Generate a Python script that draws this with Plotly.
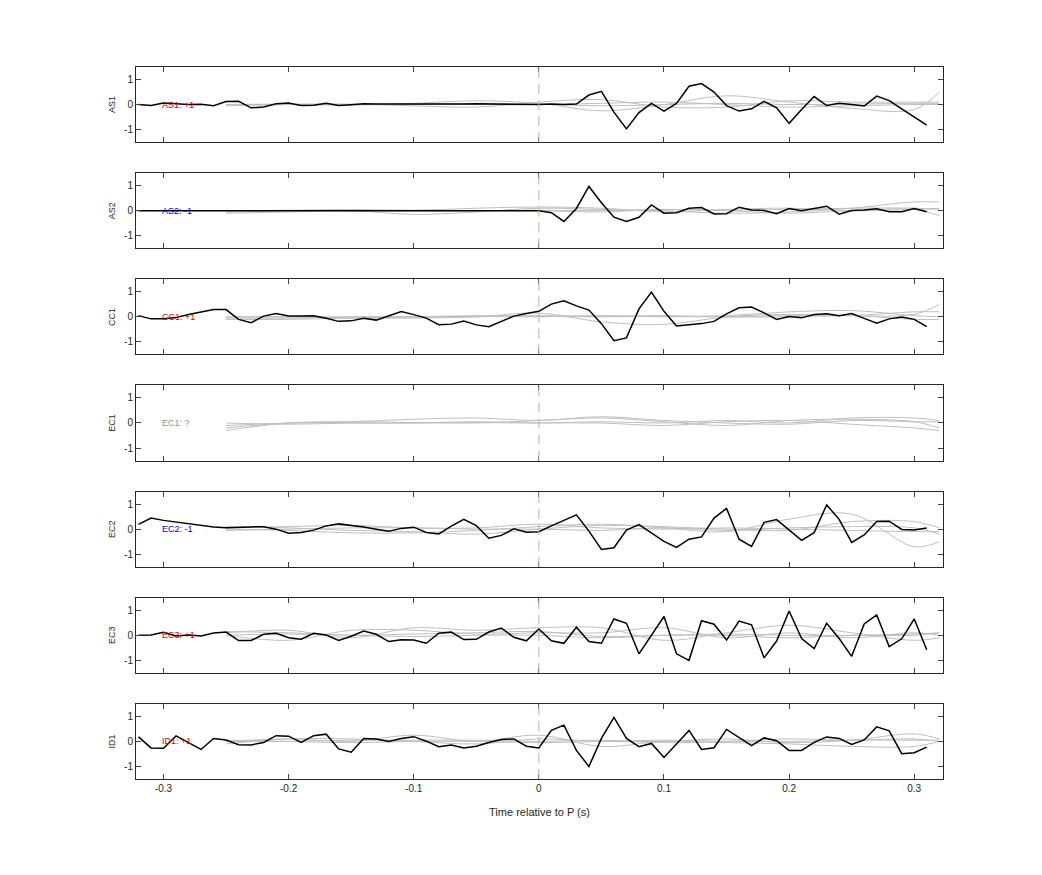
import numpy as np
import plotly.graph_objects as go
from plotly.subplots import make_subplots

# black trace time axis: -0.32 .. 0.31 in 0.01 steps
t_black = np.round(np.arange(-0.32, 0.315, 0.01), 2)
# gray synthetic curves sampled coarsely, drawn as splines
t_gray = [-0.25, -0.2, -0.15, -0.1, -0.05, 0.0, 0.05, 0.1, 0.15, 0.2, 0.25, 0.3, 0.32]

stations = ["AS1", "AS2", "CC1", "EC1", "EC2", "EC3", "ID1"]
labels = ["AS1: +1", "AS2: -1", "CC1: +1", "EC1: ?", "EC2: -1", "EC3: +1", "ID1: +1"]
label_colors = ["#d00000", "#0000c8", "#d00000", "#909090", "#0000c8", "#d00000", "#d00000"]

as1 = [0, -0.04, 0.06, 0.03, 0, 0.01, -0.05, 0.12, 0.13, -0.13, -0.1, 0.03, 0.06, -0.04, -0.03,
       0.05, -0.04, -0.01, 0.03, 0.02, 0.02, 0.01, 0, 0, -0.01, 0, 0.02, 0.03, 0.02, 0.03, 0, 0,
       0, 0.02, 0, 0.02, 0.38, 0.53, -0.3, -0.97, -0.32, 0.05, -0.26, 0.05, 0.73, 0.84, 0.5, -0.04,
       -0.26, -0.17, 0.13, -0.13, -0.75, -0.2, 0.32, -0.04, 0.05, 0, -0.06, 0.34, 0.16, -0.17, -0.49, -0.82]
as2 = [0, 0, 0, 0, 0.01, 0.01, 0, 0, 0, 0.01, 0.01, 0, 0, 0, 0, 0, 0, 0, 0.01, 0.01, 0.01, 0.02,
       0.02, 0.02, 0.01, 0.01, 0.01, 0.01, 0.01, 0.02, 0.01, 0.01,
       0, -0.08, -0.43, 0.09, 0.97, 0.32, -0.26, -0.43, -0.26, 0.23, -0.1, -0.08, 0.1, 0.13, -0.13,
       -0.12, 0.14, 0.03, 0.01, -0.12, 0.09, 0, 0.1, 0.18, -0.14, 0.01, 0.03, 0.08, -0.04, -0.04, 0.09, -0.04]
cc1 = [0.05, -0.08, -0.08, -0.03, 0.09, 0.19, 0.29, 0.29, -0.1, -0.23, 0.03, 0.13, 0.03, 0.03, 0.04,
       -0.06, -0.18, -0.16, -0.06, -0.13, 0.05, 0.21, 0.09, -0.05, -0.31, -0.29, -0.17, -0.32, -0.39,
       -0.18, 0.03, 0.13,
       0.22, 0.51, 0.64, 0.44, 0.27, -0.27, -0.95, -0.84, 0.32, 0.99, 0.22, -0.36, -0.32, -0.27, -0.18,
       0.12, 0.36, 0.39, 0.16, -0.1, 0.01, -0.04, 0.09, 0.12, 0.04, 0.13, -0.06, -0.25, -0.08, -0.01, -0.1, -0.39]
ec1 = None
ec2 = [0.19, 0.44, 0.35, 0.29, 0.22, 0.14, 0.09, 0.06, 0.06, 0.09, 0.1, 0, -0.16, -0.13, -0.04, 0.13,
       0.21, 0.16, 0.09, 0, -0.08, 0.03, 0.08, -0.13, -0.19, 0.12, 0.39, 0.14, -0.36, -0.25, 0.01, -0.12,
       -0.1, 0.13, 0.36, 0.57, -0.08, -0.81, -0.74, -0.04, 0.18, -0.14, -0.49, -0.73, -0.4, -0.31, 0.44,
       0.83, -0.4, -0.69, 0.27, 0.38, -0.05, -0.45, -0.14, 0.97, 0.39, -0.53, -0.23, 0.31, 0.32, -0.01, -0.03, 0.05]
ec3 = [0, 0.01, 0.12, -0.03, 0.01, -0.03, 0.09, 0.13, -0.21, -0.21, 0.04, 0.08, -0.1, -0.16, 0.08, 0.01,
       -0.21, -0.04, 0.17, 0.04, -0.25, -0.18, -0.19, -0.32, 0.08, 0.13, -0.17, -0.16, 0.13, 0.29, -0.08, -0.22,
       0.25, -0.22, -0.32, 0.32, -0.25, -0.32, 0.65, 0.48, -0.74, -0.01, 0.75, -0.74, -1.0, 0.58, 0.44, -0.19,
       0.57, 0.42, -0.9, -0.23, 0.97, -0.13, -0.53, 0.48, -0.13, -0.84, 0.45, 0.81, -0.45, -0.14, 0.65, -0.58]
id1 = [0.18, -0.26, -0.27, 0.22, -0.05, -0.32, 0.12, 0.06, -0.13, -0.14, -0.04, 0.23, 0.21, -0.04, 0.23,
       0.29, -0.3, -0.43, 0.12, 0.1, 0, 0.12, 0.19, 0.01, -0.21, -0.14, -0.26, -0.19, -0.04, 0.08, 0.1, -0.19,
       -0.26, 0.44, 0.65, -0.36, -1.0, 0.12, 0.96, 0.12, -0.21, -0.08, -0.64, -0.1, 0.44, -0.32, -0.25, 0.48,
       0.16, -0.17, 0.14, 0.03, -0.36, -0.36, -0.04, 0.18, 0.12, -0.12, 0.06, 0.58, 0.42, -0.49, -0.45, -0.23]
black = [as1, as2, cc1, ec1, ec2, ec3, id1]

gray = [
    [[0, 0, -0.02, 0.05, 0.15, 0.05, -0.25, 0.0, 0.35, 0.1, -0.15, -0.2, 0.5],
     [-0.05, 0, 0.02, -0.05, -0.1, 0.1, 0.2, -0.1, -0.1, 0.15, 0.1, 0.1, 0.1],
     [0, 0, 0, 0.02, 0, 0, 0.05, 0.1, 0, -0.1, -0.05, 0, 0],
     [0, 0.02, 0, 0, 0.05, 0.02, -0.05, 0, 0.05, 0, 0.02, 0.05, 0.05]],
    [[-0.1, -0.05, 0, -0.15, -0.05, 0.1, 0.05, 0.0, -0.1, -0.05, 0.1, 0.35, 0.35],
     [0, 0.02, 0.05, 0.02, 0.1, 0.15, 0.1, -0.05, 0.05, 0.1, 0, 0.05, 0.1],
     [0, 0, 0, 0, 0, 0, -0.05, 0.05, 0, -0.1, 0, 0.05, -0.2],
     [-0.05, 0, 0, 0, 0, 0.02, 0, 0.05, 0.02, 0.05, 0.1, 0.1, 0.05]],
    [[-0.1, -0.1, -0.05, -0.05, 0, 0.15, -0.2, -0.3, 0, 0.1, 0.05, 0.1, 0.5],
     [-0.05, -0.05, 0, 0, 0.02, 0, 0.05, 0, 0.05, 0.2, 0.25, 0.05, 0],
     [0, 0, -0.05, 0, 0, 0.05, 0.02, 0.05, 0, 0, 0.05, -0.1, -0.1],
     [0, 0, 0, 0, 0.05, 0.02, 0, 0.02, 0, 0.05, 0.05, 0.2, 0.2]],
    [[-0.3, 0, 0.05, 0.02, 0, 0.1, 0.2, 0.05, -0.1, 0.1, 0.15, 0.05, -0.2],
     [-0.1, 0, 0.05, 0.15, 0.2, 0.1, 0.25, 0.1, 0, -0.05, 0.1, 0.05, 0.05],
     [0, -0.05, 0, 0, 0.05, 0, 0, -0.1, 0.05, 0.1, -0.05, -0.2, -0.3],
     [-0.2, 0, 0, 0, 0.02, 0, 0.05, 0, 0.1, 0, 0.2, 0.2, 0.1]],
    [[0, -0.05, -0.15, -0.15, -0.05, 0.1, 0.2, 0.05, -0.1, 0.4, 0.6, -0.7, -0.5],
     [0.1, 0.05, -0.05, -0.1, -0.2, 0, 0.15, 0.1, 0, -0.05, 0.3, 0.3, 0.05],
     [0.05, 0.1, 0.15, 0.05, 0.05, 0.2, 0.05, 0, 0.05, 0, -0.05, -0.1, -0.1],
     [-0.05, 0, 0.05, 0.05, 0, 0, -0.05, 0.05, -0.05, 0.05, 0.1, 0.05, -0.2]],
    [[0.1, 0.2, -0.1, 0.3, 0.2, 0.3, 0.3, -0.2, 0.1, 0.4, 0.1, -0.2, -0.1],
     [0, -0.2, 0.2, 0.2, 0.05, 0.1, 0.1, 0.3, -0.1, 0.1, -0.1, 0.1, 0],
     [0.15, 0.1, 0, 0.05, 0.1, 0.15, -0.05, 0, 0, -0.1, 0, 0, 0.1],
     [0, 0.05, 0, -0.05, 0, 0, -0.1, 0, 0.05, 0, 0, 0.05, 0.1]],
    [[0, 0.1, 0, 0.25, 0, 0.25, -0.2, 0.0, -0.05, -0.1, -0.2, -0.2, 0],
     [-0.1, 0.1, 0.1, 0, -0.1, 0.1, 0, 0, 0.1, -0.05, 0.05, 0.3, 0.1],
     [0, 0, 0.05, 0.05, 0.05, 0, 0.05, -0.05, 0, 0.1, 0.05, 0.1, 0],
     [0.05, 0, -0.05, 0, 0, -0.05, 0, 0.05, 0, 0, 0.05, 0.05, 0.05]],
]

fig = make_subplots(rows=7, cols=1, shared_xaxes=True, vertical_spacing=31 / 712)

for i, name in enumerate(stations):
    r = i + 1
    for g in gray[i]:
        fig.add_trace(go.Scatter(x=t_gray, y=g, mode="lines", line=dict(color="#bfbfbf", width=1, shape="spline"),
                                 showlegend=False, hoverinfo="skip"), row=r, col=1)
    if black[i] is not None:
        fig.add_trace(go.Scatter(x=t_black, y=black[i], mode="lines", line=dict(color="black", width=1.5),
                                 showlegend=False), row=r, col=1)
    fig.add_vline(x=0, line=dict(color="#c8a8a8", width=1, dash="10px,6px"), row=r, col=1)
    fig.add_annotation(x=-0.303, y=0, text=labels[i], showarrow=False, xanchor="left",
                       font=dict(size=9, color=label_colors[i]), row=r, col=1)
    fig.update_yaxes(title_text=name, title_font=dict(size=9), title_standoff=6, row=r, col=1)

fig.update_xaxes(range=[-0.322, 0.323], tickvals=[-0.3, -0.2, -0.1, 0, 0.1, 0.2, 0.3],
                 ticktext=["-0.3", "-0.2", "-0.1", "0", "0.1", "0.2", "0.3"],
                 ticks="inside", ticklen=5, showline=True, mirror="ticks", linecolor="#262626",
                 showgrid=False, zeroline=False, tickfont=dict(size=10))
fig.update_yaxes(range=[-1.5, 1.5], tickvals=[-1, 0, 1], ticktext=["-1", "0", "1"],
                 ticks="inside", ticklen=5, showline=True,
                 mirror="ticks", linecolor="#262626", showgrid=False, zeroline=False, tickfont=dict(size=10))
fig.update_xaxes(title_text="Time relative to P (s)", title_font=dict(size=11), row=7, col=1)

fig.update_layout(width=1042, height=875, plot_bgcolor="white", paper_bgcolor="white",
                  margin=dict(l=128, r=107, t=59, b=104),
                  font=dict(family="Liberation Sans, Arial", color="#262626"))

fig.write_html("out.html")
